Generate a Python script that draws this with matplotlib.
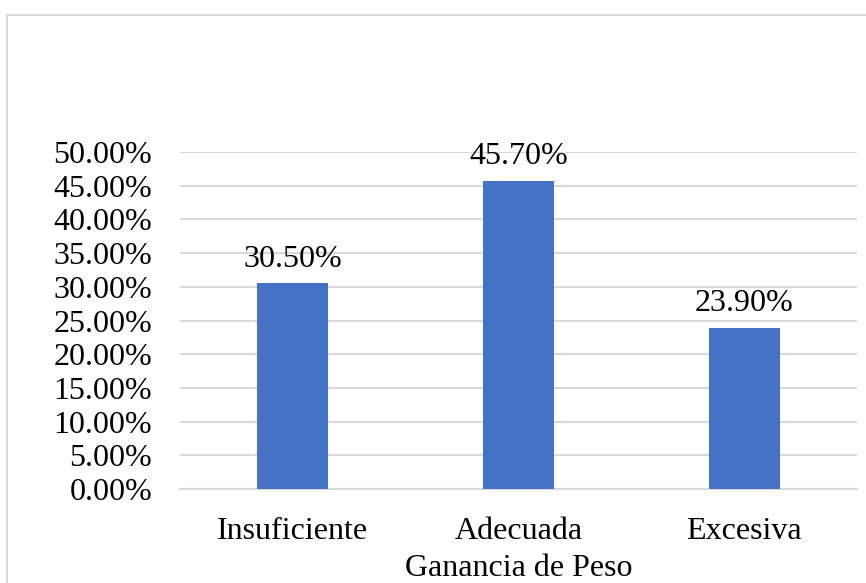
import matplotlib.pyplot as plt
from matplotlib.patches import Rectangle
from matplotlib.ticker import FuncFormatter

categorias = ["Insuficiente", "Adecuada", "Excesiva"]
valores = [0.305, 0.457, 0.239]
etiquetas = ["30.50%", "45.70%", "23.90%"]
ticks_y = [0.0, 0.05, 0.10, 0.15, 0.20, 0.25, 0.30, 0.35, 0.40, 0.45, 0.50]

plt.rcParams['font.family'] = ['Liberation Serif', 'DejaVu Serif']

fig = plt.figure(figsize=(8.66, 5.83), dpi=100)
fig.patches.append(Rectangle((7 / 866, -0.1), 2, 1.1 - 15 / 583, transform=fig.transFigure,
                             fill=False, edgecolor='#d9d9d9', linewidth=1.5))

ax = fig.add_axes([180 / 866, 1 - 489 / 583, (857 - 180) / 866, (489 - 152) / 583])
x = range(len(categorias))
barras = ax.bar(x, valores, width=0.314, color='#4472c4', zorder=3)
ax.bar_label(barras, labels=etiquetas, padding=7, fontsize=23)

ax.set_xlim(-0.5, 2.5)
ax.set_ylim(0, 0.5)
ax.set_yticks(ticks_y)
ax.yaxis.set_major_formatter(FuncFormatter(lambda v, p: f"{v * 100:.2f}%"))
ax.set_xticks(list(x))
ax.set_xticklabels(categorias)
ax.tick_params(axis='both', length=0, labelsize=23, colors='black')
ax.tick_params(axis='x', pad=20)
ax.tick_params(axis='y', pad=20)
ax.grid(axis='y', color='#d9d9d9', linewidth=1.5, zorder=0)
for s in ['top', 'right', 'left']:
    ax.spines[s].set_visible(False)
ax.spines['bottom'].set_color('#d9d9d9')
ax.spines['bottom'].set_linewidth(1.5)
ax.set_xlabel("Ganancia de Peso", fontsize=23, labelpad=6)

fig.savefig("out.png", dpi=100)
